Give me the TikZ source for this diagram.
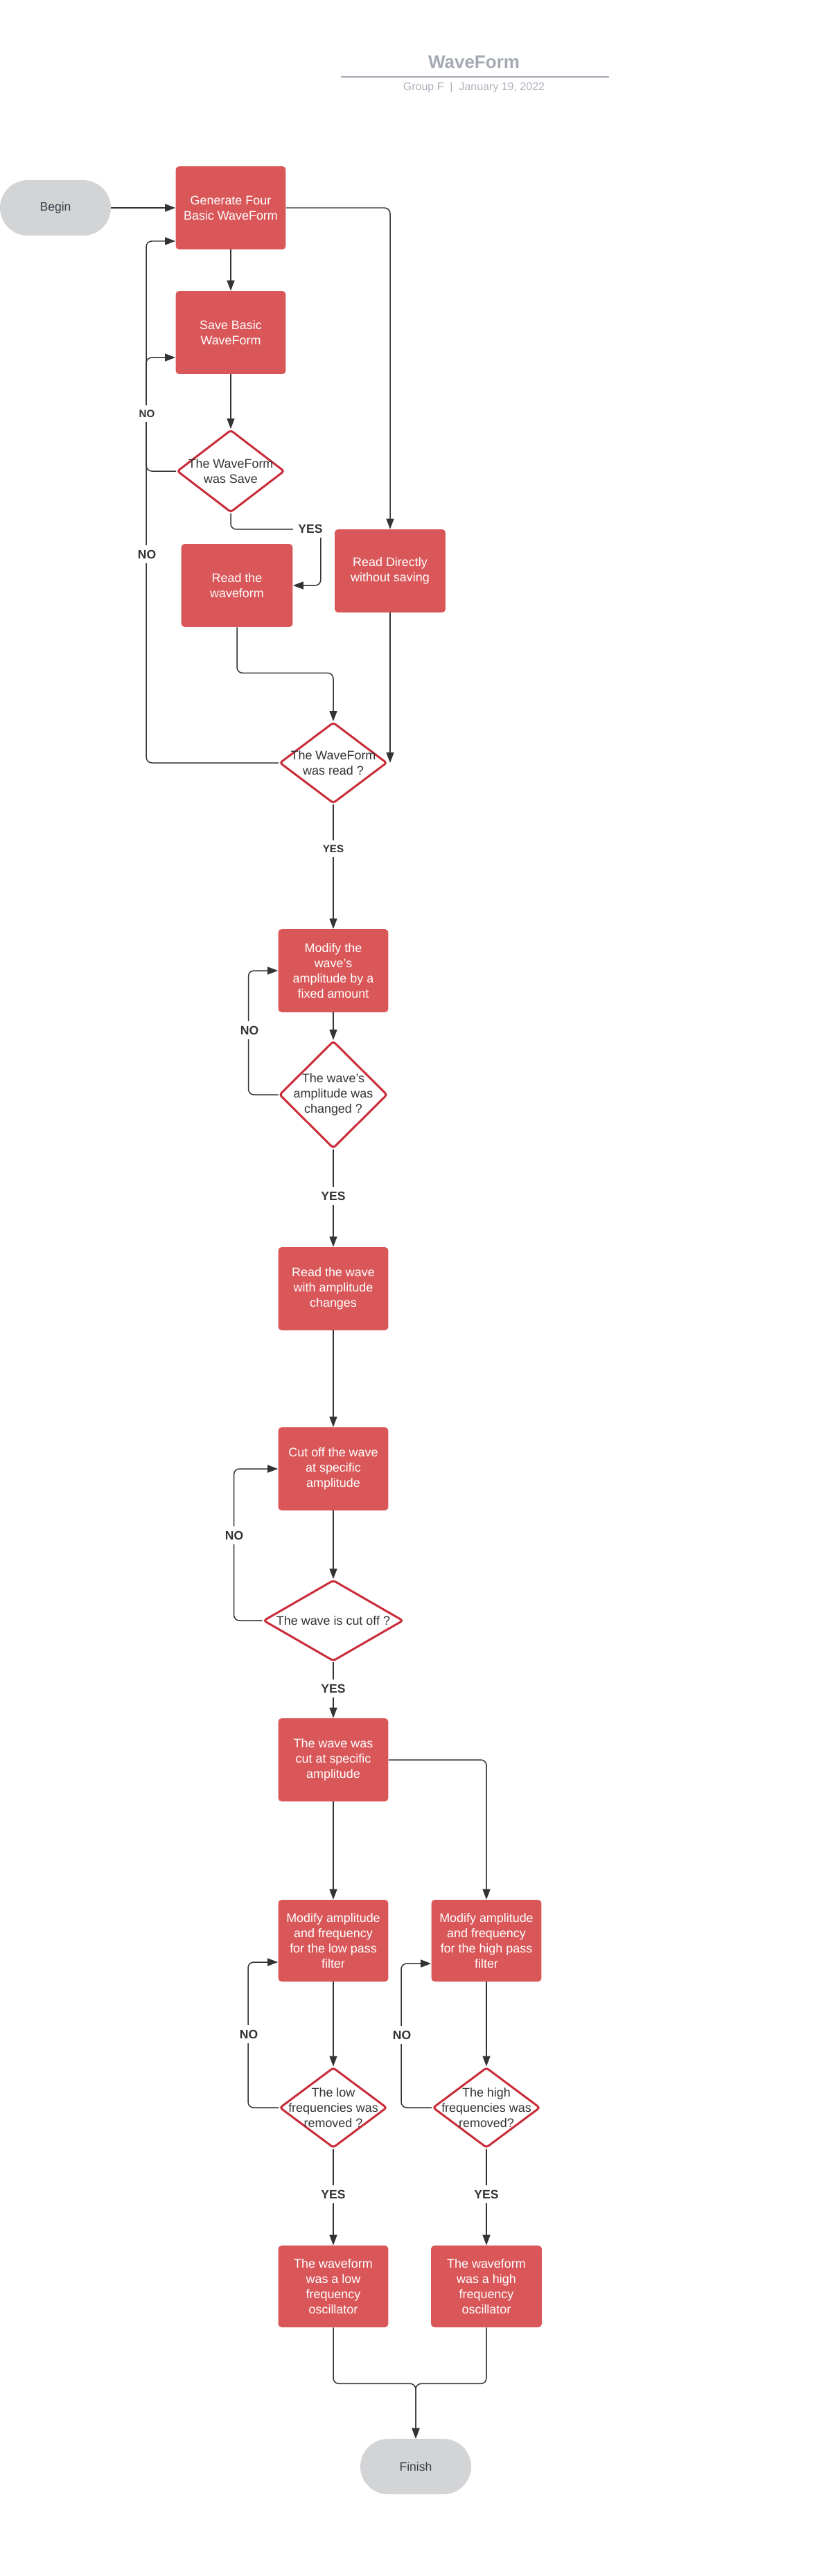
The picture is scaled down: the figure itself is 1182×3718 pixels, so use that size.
\documentclass[tikz,border=0pt]{standalone}
\usepackage{fontspec}
\setmainfont{Liberation Sans}
\usepackage{xcolor}
\usetikzlibrary{shapes.geometric}
\usetikzlibrary{arrows.meta}
\usetikzlibrary{calc}

\definecolor{boxred}{RGB}{217,87,89}
\definecolor{edgered}{RGB}{201,45,57}
\definecolor{pill}{RGB}{211,212,214}
\definecolor{ink}{RGB}{51,51,51}
\definecolor{slate}{RGB}{58,65,74}
\definecolor{titlegray}{RGB}{164,169,180}

\begin{document}
\begin{tikzpicture}
  [
    x=0.02cm, y=-0.02cm,
    proc/.style={rectangle, rounded corners=0.1cm, fill=boxred, text=white,
      minimum width=3.18cm, minimum height=2.4cm, inner sep=0pt,
      align=center, font=\fontsize{10.2}{12.4}\selectfont},
    term/.style={rectangle, rounded corners=0.8cm, fill=pill, text=slate,
      minimum width=3.2cm, minimum height=1.6cm,
      font=\fontsize{10}{12}\selectfont},
    dec/.style={diamond, draw=edgered, line width=1.7pt, fill=white,
      rounded corners=2pt, inner sep=0pt},
    dtxt/.style={text=ink, align=center, inner sep=0pt,
      font=\fontsize{10.2}{12.4}\selectfont},
    ln/.style={draw=ink, line width=0.85pt, rounded corners=0.16cm,
      -{Triangle[length=0.3cm,width=0.22cm]}},
    lbl/.style={fill=white, text=ink, inner sep=4pt,
      font=\bfseries\fontsize{10}{12}\selectfont},
    lbls/.style={lbl, font=\bfseries\fontsize{8.6}{10}\selectfont}
  ]
  \useasboundingbox (0,0) rectangle (1182,3718);

  % title block
  \node (title) at (684,90) [text=titlegray,
    font=\bfseries\fontsize{14.8}{17}\selectfont] {WaveForm};
  \draw [titlegray, line width=0.05cm] (492,111) -- (879,111);
  \node (sub) at (684,126) [text=titlegray!90,
    font=\fontsize{9.1}{11}\selectfont] {Group F \ | \ January 19, 2022};

  % first part
  \node (begin)   at (80,300)  [term] {Begin};
  \node (gen)     at (333,300) [proc] {Generate Four\\Basic WaveForm};
  \node (save)    at (333,480) [proc] {Save Basic\\WaveForm};
  \node (dsave)   at (333,680) [dec, minimum width=3.1cm, minimum height=2.38cm,
    label={[dtxt]center:{The WaveForm\\was Save}}] {};
  \node (readwf)  at (342,845) [proc, minimum width=3.22cm] {Read the\\waveform};
  \node (readdir) at (563,824) [proc, minimum width=3.2cm] {Read Directly\\without saving};
  \node (dread)   at (481,1101) [dec, minimum width=3.1cm, minimum height=2.34cm,
    label={[dtxt]center:{The WaveForm\\was read ?}}] {};

  % amplitude
  \node (modamp)  at (481,1401) [proc] {Modify the\\wave's\\amplitude by a\\fixed amount};
  \node (damp)    at (481,1580) [dec, minimum width=3.12cm, minimum height=3.1cm,
    label={[dtxt]center:{The wave's\\amplitude was\\changed ?}}] {};
  \node (readamp) at (481,1860) [proc] {Read the wave\\with amplitude\\changes};

  % cut off
  \node (cutoff)  at (481,2120) [proc] {Cut off the wave\\at specific\\amplitude};
  \node (dcut)    at (481,2339) [dec, minimum width=4.04cm, minimum height=2.34cm,
    label={[dtxt]center:{The wave is cut off ?}}] {};
  \node (cutat)   at (481,2540) [proc] {The wave was\\cut at specific\\amplitude};

  % filters
  \node (lowmod)  at (481,2801) [proc, minimum height=2.36cm] {Modify amplitude\\and frequency\\for the low pass\\filter};
  \node (highmod) at (702,2801) [proc, minimum height=2.36cm] {Modify amplitude\\and frequency\\for the high pass\\filter};
  \node (dlow)    at (481,3042) [dec, minimum width=3.1cm, minimum height=2.32cm,
    label={[dtxt]center:{The low\\frequencies was\\removed ?}}] {};
  \node (dhigh)   at (702,3042) [dec, minimum width=3.1cm, minimum height=2.32cm,
    label={[dtxt]center:{The high\\frequencies was\\removed?}}] {};
  \node (lowosc)  at (481,3300) [proc, minimum height=2.36cm] {The waveform\\was a low\\frequency\\oscillator};
  \node (highosc) at (702,3300) [proc, minimum width=3.2cm, minimum height=2.36cm] {The waveform\\was a high\\frequency\\oscillator};
  \node (finish)  at (600,3560) [term] {Finish};

  % connectors
  \draw [ln] (begin) -- (gen);
  \draw [ln] (gen) -- (save);
  \draw [ln] (gen.east) -| (readdir.north);
  \draw [ln] (save) -- (dsave);
  \draw [ln] (dsave.west) -- ++(-43,0) |- ($(save.west)+(0,36)$);
  \draw [ln] (dread.west) -- ++(-191,0) |- ($(gen.west)+(0,48)$);
  \draw [ln] (dsave.south) -- ++(0,23) -| ($(readwf.east)+(40,0)$) -- (readwf.east);
  \draw [ln] (readwf.south) -- ++(0,66) -| (dread.north);
  \draw [ln] (readdir.south) -- (readdir.south |- dread.east);
  \draw [ln] (dread) -- (modamp);
  \draw [ln] (modamp) -- (damp);
  \draw [ln] (damp.west) -- ++(-43,0) |- (modamp.west);
  \draw [ln] (damp) -- (readamp);
  \draw [ln] (readamp) -- (cutoff);
  \draw [ln] (cutoff) -- (dcut);
  \draw [ln] (dcut.west) -- ++(-41,0) |- (cutoff.west);
  \draw [ln] (dcut) -- (cutat);
  \draw [ln] (cutat) -- (lowmod);
  \draw [ln] (cutat.east) -| (highmod.north);
  \draw [ln] (lowmod) -- (dlow);
  \draw [ln] (highmod) -- (dhigh);
  \draw [ln] (dlow.west) -- ++(-44,0) |- ($(lowmod.west)+(0,31)$);
  \draw [ln] (dhigh.west) -- ++(-44,0) |- ($(highmod.west)+(0,33)$);
  \draw [ln] (dlow) -- (lowosc);
  \draw [ln] (dhigh) -- (highosc);
  \draw [ln] (lowosc.south) -- ++(0,81) -| (finish.north);
  \draw [ln] (highosc.south) -- ++(0,81) -| (finish.north);

  % yes / no labels
  \node (nosave)  at (212,597)  [lbls] {NO};
  \node (noread)  at (212,800)  [lbl]  {NO};
  \node (yessave) at (448,763)  [lbl]  {YES};
  \node (yesread) at (481,1225) [lbls] {YES};
  \node (noamp)   at (360,1487) [lbl]  {NO};
  \node (yesamp)  at (481,1726) [lbl]  {YES};
  \node (nocut)   at (338,2216) [lbl]  {NO};
  \node (yescut)  at (481,2437) [lbl]  {YES};
  \node (nolow)   at (359,2936) [lbl]  {NO};
  \node (nohigh)  at (580,2937) [lbl]  {NO};
  \node (yeslow)  at (481,3167) [lbl]  {YES};
  \node (yeshigh) at (702,3167) [lbl]  {YES};
\end{tikzpicture}
\end{document}
